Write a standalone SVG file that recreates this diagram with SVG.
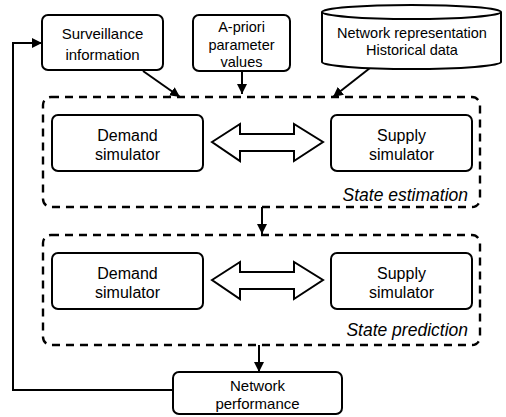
<svg xmlns="http://www.w3.org/2000/svg" width="506" height="417" viewBox="0 0 506 417">
<style>
.box{fill:#fff;stroke:#000;stroke-width:2}
.dash{fill:none;stroke:#000;stroke-width:2.4;stroke-dasharray:8 6}
.t{font-family:"Liberation Sans",Arial,sans-serif;font-size:15px;fill:#000;text-anchor:middle}
.s{font-size:14.5px}
.m{font-size:16px}
.it{font-family:"Liberation Sans",Arial,sans-serif;font-size:17.5px;font-style:italic;fill:#000;text-anchor:end}
.c{fill:none;stroke:#000;stroke-width:2}
.dbl{fill:#fff;stroke:#000;stroke-width:2;stroke-linejoin:miter}
</style>
<defs>
<marker id="ah" viewBox="0 0 10 10" refX="10" refY="5" markerWidth="10" markerHeight="10" markerUnits="userSpaceOnUse" orient="auto">
<path d="M0,0 L10,5 L0,10 z" fill="#000"/>
</marker>
</defs>
<rect width="506" height="417" fill="#fff"/>

<g id="state-estimation">
<rect class="dash" x="43" y="97" width="437" height="110" rx="8"/>
<text class="it" x="468" y="201">State estimation</text>
</g>
<g id="state-prediction">
<rect class="dash" x="43" y="235" width="437" height="110" rx="8"/>
<text class="it" x="468" y="336">State prediction</text>
</g>

<g id="connectors">
<path class="c" d="M143,71 L180,97" marker-end="url(#ah)"/>
<path class="c" d="M242,72 L242,94" marker-end="url(#ah)"/>
<path class="c" d="M370,68 L333,97" marker-end="url(#ah)"/>
<path class="c" d="M262,207 L262,234" marker-end="url(#ah)"/>
<path class="c" d="M259,345 L259,372" marker-end="url(#ah)"/>
<path class="c" d="M173,390 L13,390 L13,43 L42,43" marker-end="url(#ah)"/>
<polygon class="dbl" points="212,142 240,124 240,134 294,134 294,124 323,142 294,161 294,151 240,151 240,161"/>
<polygon class="dbl" points="212,280 240,262 240,272 294,272 294,262 323,280 294,299 294,289 240,289 240,299"/>
</g>

<g id="surveillance">
<rect class="box" x="42" y="15" width="121" height="55" rx="6"/>
<text class="t" x="102.5" y="39">Surveillance</text>
<text class="t" x="102.5" y="60">information</text>
</g>
<g id="apriori">
<rect class="box" x="193" y="15" width="97" height="56" rx="6"/>
<text class="t s" x="241.5" y="32">A-priori</text>
<text class="t s" x="241.5" y="50">parameter</text>
<text class="t s" x="241.5" y="67">values</text>
</g>
<g id="network-data">
<path class="box" d="M322,12 L322,62 A89.5,7 0 0 0 501,62 L501,12"/>
<ellipse class="box" cx="411.5" cy="12" rx="89.5" ry="7"/>
<text class="t s" x="412" y="38">Network representation</text>
<text class="t s" x="412" y="55">Historical data</text>
</g>
<g id="demand1">
<rect class="box" x="52" y="115" width="151" height="56" rx="6"/>
<text class="t m" x="127.5" y="141">Demand</text>
<text class="t m" x="127.5" y="160">simulator</text>
</g>
<g id="supply1">
<rect class="box" x="331" y="115" width="141" height="56" rx="6"/>
<text class="t m" x="401.5" y="141">Supply</text>
<text class="t m" x="401.5" y="160">simulator</text>
</g>
<g id="demand2">
<rect class="box" x="52" y="253" width="151" height="56" rx="6"/>
<text class="t m" x="127.5" y="279">Demand</text>
<text class="t m" x="127.5" y="298">simulator</text>
</g>
<g id="supply2">
<rect class="box" x="331" y="253" width="141" height="56" rx="6"/>
<text class="t m" x="401.5" y="279">Supply</text>
<text class="t m" x="401.5" y="298">simulator</text>
</g>
<g id="network-performance">
<rect class="box" x="173" y="372" width="169" height="42" rx="6"/>
<text class="t" x="257.5" y="391">Network</text>
<text class="t" x="257.5" y="409">performance</text>
</g>
</svg>
